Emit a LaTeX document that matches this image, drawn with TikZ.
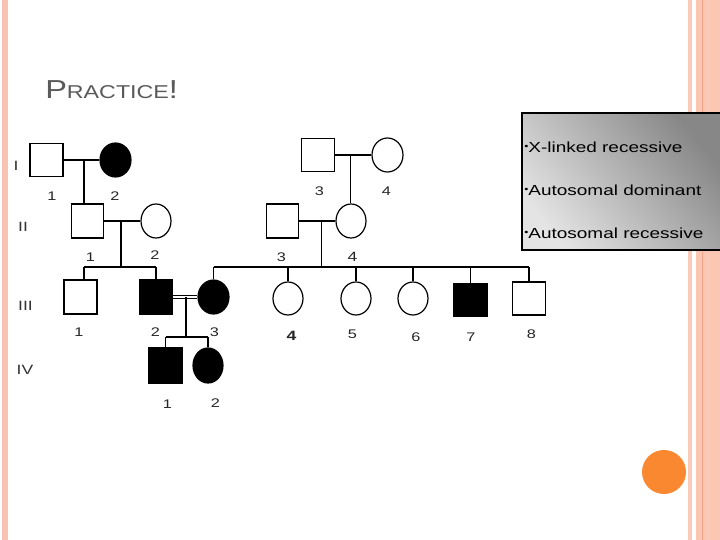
\documentclass[tikz,border=0pt]{standalone}
\usepackage{fontspec}
\setmainfont{Liberation Sans}
\usetikzlibrary{shapes.geometric}
\definecolor{stripeL}{RGB}{247,194,176}
\definecolor{stripeA}{RGB}{249,202,185}
\definecolor{stripeB}{RGB}{251,199,179}
\definecolor{stripeC}{RGB}{243,166,136}
\definecolor{orangedot}{RGB}{250,136,48}
\definecolor{titlegray}{RGB}{90,90,90}
\definecolor{boxdark}{RGB}{135,135,135}
\definecolor{boxlight}{RGB}{228,228,228}
\tikzset{
  ln/.style={line width=1.2pt},
  male/.style={draw, rectangle, line width=1.2pt, minimum width=33pt, minimum height=33pt, inner sep=0pt},
  female/.style={draw, ellipse, line width=1.2pt, minimum width=30pt, minimum height=34pt, inner sep=0pt},
  aff/.style={fill=black},
  lbl/.style={font=\fontsize{12.5}{13}\selectfont, xscale=1.3, text=black!85, inner sep=0pt},
  gen/.style={font=\fontsize{13.5}{14}\selectfont, xscale=1.3, text=black!80, inner sep=0pt},
  legtext/.style={font=\fontsize{14.6}{16}\selectfont, xscale=1.3, anchor=west, inner sep=0pt},
}
\newcommand{\legbul}{\raisebox{0.16em}{\fontsize{9}{9}\selectfont•}}
\begin{document}
\begin{tikzpicture}[x=1pt,y=-1pt]
\useasboundingbox (0,0) rectangle (720,540);
\fill[white] (0,0) rectangle (720,540);
% decorative stripes
\fill[stripeL] (2,0) rectangle (7.5,540);
\fill[stripeA] (688,0) rectangle (692,540);
\fill[stripeB] (696,0) rectangle (720,540);
\fill[stripeC] (701.8,0) rectangle (702.8,540);
\fill[stripeA] (707,0) rectangle (710,540);
\fill[orangedot] (664,472) circle (22);
% title
\node[anchor=base west, inner sep=0pt, text=titlegray, xscale=1.25] (title) at (45,99)
  {{\fontsize{26}{26}\selectfont P}{\fontsize{18.6}{20}\selectfont RACTICE}{\fontsize{26}{26}\selectfont !}};
% legend box
\shade[top color=boxdark, bottom color=boxlight, shading angle=-50] (521.5,113.5) rectangle (722,250);
\draw[line width=2pt] (722,113.5) -- (521.5,113.5) -- (521.5,250) -- (722,250);
\node[legtext] (lg1) at (524,147) {\legbul X-linked recessive};
\node[legtext] (lg2) at (524,190) {\legbul Autosomal dominant};
\node[legtext] (lg3) at (524,233) {\legbul Autosomal recessive};
% generation labels
\node[gen] (gI) at (16,166) {I};
\node[gen] (gII) at (23,227) {II};
\node[gen] (gIII) at (25.5,306) {III};
\node[gen] (gIV) at (25,369.5) {IV};
% generation I
\node[male] (I1) at (46.5,160) {};
\node[female, aff, minimum width=31pt] (I2) at (115.5,160) {};
\node[male] (I3) at (318,155) {};
\node[female, minimum width=31pt] (I4) at (387.5,155) {};
% generation II
\node[male, minimum width=32pt, minimum height=34pt] (II1) at (87.5,221) {};
\node[female] (II2) at (156,221) {};
\node[male, minimum width=32pt, minimum height=34pt] (II3) at (282.5,221) {};
\node[female] (II4) at (351,221) {};
% generation III
\node[male, minimum height=34pt] (III1) at (80.5,297) {};
\node[male, aff, minimum height=34pt] (III2) at (156,297) {};
\node[female, aff, minimum width=31pt] (III3) at (213.5,297) {};
\node[female, minimum height=33pt] (III4) at (288,298.5) {};
\node[female, minimum height=33pt] (III5) at (356,298.5) {};
\node[female, minimum height=33pt] (III6) at (413,298.5) {};
\node[male, aff] (III7) at (470.5,300) {};
\node[male] (III8) at (529,298.5) {};
% generation IV
\node[male, aff, minimum height=35pt] (IV1) at (165.5,365.5) {};
\node[female, aff, minimum height=35pt] (IV2) at (208,365.5) {};
% connectors gen I -> II
\draw[ln] (I1.east) -- (I2.west);
\coordinate (m1) at (84,160);
\draw[ln] (m1) -- (m1 |- II1.north);
\draw[ln] (I3.east) -- (I4.west);
\coordinate (m3) at (350.5,155);
\draw[ln] (m3) -- (m3 |- II4.north);
% gen II -> III
\draw[ln] (II1.east) -- (II2.west);
\coordinate (m2) at (121,221);
\coordinate (s1) at (121,267);
\draw[ln] (m2) -- (s1);
\coordinate (s1l) at (84,267);
\coordinate (s1r) at (156,267);
\draw[ln] (s1l) -- (s1r);
\draw[ln] (s1l) -- (s1l |- III1.north);
\draw[ln] (s1r) -- (III2.north);
\draw[ln] (II3.east) -- (II4.west);
\coordinate (m4) at (321.5,221);
\coordinate (s2) at (321.5,267);
\draw[ln] (m4) -- (s2);
\coordinate (s2l) at (213.5,267);
\coordinate (s2r) at (529,267);
\draw[ln] (s2l) -- (s2r);
\draw[ln] (s2l) -- (III3.north);
\draw[ln] (III4.north |- s2l) -- (III4.north);
\draw[ln] (III5.north |- s2l) -- (III5.north);
\draw[ln] (III6.north |- s2l) -- (III6.north);
\draw[ln] (III7.north |- s2l) -- (III7.north);
\draw[ln] (s2r) -- (III8.north);
% consanguineous mating
\draw[line width=1.1pt, double, double distance=1.6pt] (III2.east) -- (III3.west);
\coordinate (m5) at (186,297);
\coordinate (s3) at (186,337);
\draw[ln] (m5) -- (s3);
\coordinate (s3l) at (165.5,337);
\coordinate (s3r) at (208,337);
\draw[ln] (s3l) -- (s3r);
\draw[ln] (s3l) -- (IV1.north);
\draw[ln] (s3r) -- (IV2.north);
% individual labels
\node[lbl] (lI1) at (52,196) {1};
\node[lbl] (lI2) at (115,196) {2};
\node[lbl] (lI3) at (319.5,191) {3};
\node[lbl] (lI4) at (386.5,191) {4};
\node[lbl] (lII1) at (90.5,257) {1};
\node[lbl] (lII2) at (155,255.5) {2};
\node[lbl] (lII3) at (281.5,257) {3};
\node[lbl, font=\fontsize{13.5}{14}\selectfont] (lII4) at (352.5,257) {4};
\node[lbl] (lIII1) at (79,332.5) {1};
\node[lbl] (lIII2) at (155.5,332) {2};
\node[lbl] (lIII3) at (214.5,332) {3};
\node[lbl, font=\bfseries\fontsize{13.5}{14}\selectfont] (lIII4) at (291.5,335.5) {4};
\node[lbl] (lIII5) at (352.5,334.5) {5};
\node[lbl] (lIII6) at (416,337) {6};
\node[lbl] (lIII7) at (471,337.5) {7};
\node[lbl] (lIII8) at (531.5,334.5) {8};
\node[lbl] (lIV1) at (167.5,404) {1};
\node[lbl] (lIV2) at (215.5,403) {2};
\end{tikzpicture}
\end{document}
